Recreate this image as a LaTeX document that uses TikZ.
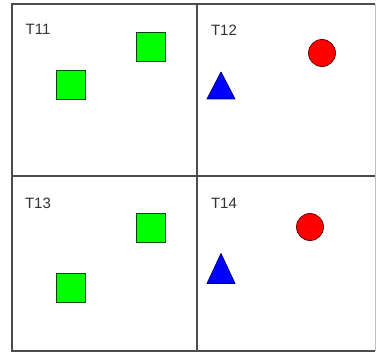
\documentclass[tikz,border=0pt]{standalone}
\usepackage{fontspec}
\setmainfont{Liberation Sans}
\begin{document}
\begin{tikzpicture}[x=1pt, y=-1pt,
    sq/.style={draw=green!30!black, fill=green, minimum size=29pt, inner sep=0pt, line width=0.8pt},
    dot/.style={draw=red!45!black, fill=red, circle, minimum width=25pt, minimum height=27pt, inner sep=0pt, line width=0.8pt},
    lbl/.style={text=black!80, font=\fontsize{15}{15}\selectfont, inner sep=0pt}]
        \tikzstyle{tri}=[draw=blue!45!black, fill=blue, line width=0.8pt, line join=round]
        \tikzstyle{frame}=[draw=black!70, line width=1.4pt]
        \useasboundingbox (0,0) rectangle (378,353);

        % grid of the four tiles
        \draw[frame] (375,4) -- (12,4) -- (12,351) -- (375,351);
        \draw[draw=black!25, line width=0.8pt] (375,4) -- (375,351);
        \draw[frame] (12,176) -- (375,176);
        \draw[frame] (197,4) -- (197,351);

        % tile labels
        \node[lbl] (t11) at (38, 29)  {T11};
        \node[lbl] (t12) at (224, 30) {T12};
        \node[lbl] (t13) at (38, 203) {T13};
        \node[lbl] (t14) at (224, 203) {T14};

        % squares
        \node[sq] (s1) at (151, 47)  {};
        \node[sq] (s2) at (71, 85)   {};
        \node[sq] (s3) at (151, 228) {};
        \node[sq] (s4) at (71, 288)  {};

        % circles
        \node[dot] (c12) at (322, 53)  {};
        \node[dot] (c14) at (310, 227) {};

        % triangles
        \coordinate (a12) at (221, 85.5);
        \coordinate (a14) at (221, 268.5);
        \draw[tri] (a12) ++(0,-13.5) -- ++(14,27) -- ++(-28,0) -- cycle;
        \draw[tri] (a14) ++(0,-15) -- ++(14,30) -- ++(-28,0) -- cycle;
\end{tikzpicture}
\end{document}
